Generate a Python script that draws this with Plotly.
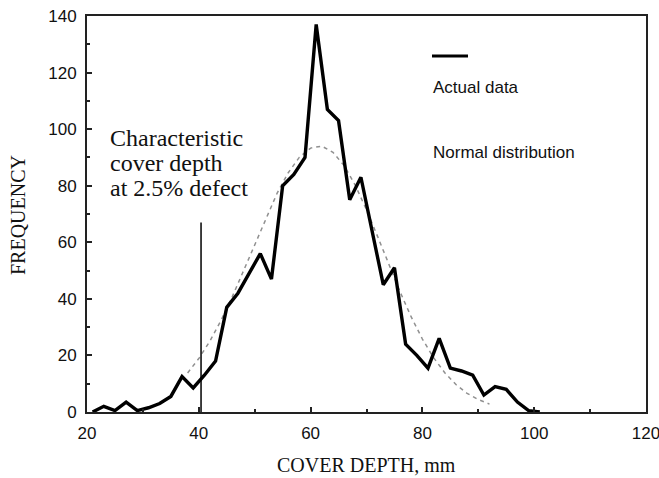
import plotly.graph_objects as go

# Actual data (cover depth bins, frequency)
depth = [21, 23, 25, 27, 29, 31, 33, 35, 37, 39, 41, 43, 45, 47, 49, 51, 53, 55, 57, 59,
         61, 63, 65, 67, 69, 71, 73, 75, 77, 79, 81, 83, 85, 87, 89, 91, 93, 95, 97, 99, 101]
freq = [0, 2, 0.5, 3.5, 0.5, 1.5, 3, 5.5, 12.5, 8.5, 13, 18, 37, 42, 49, 56, 47, 80, 84, 90,
        137, 107, 103, 75, 83, 64, 45, 51, 24, 20, 15.5, 26, 15.5, 14.5, 13, 6, 9, 8, 3.5, 0.5, 0]

# Normal distribution curve
norm_x = [38, 40, 42, 44, 46, 48, 50, 52, 54, 56, 58, 60, 62, 64, 66, 68, 70, 72, 74, 76,
          78, 80, 82, 84, 86, 88, 90, 92]
norm_y = [13.8, 18.9, 25.1, 32.5, 40.8, 49.9, 59.4, 68.7, 77.3, 84.6, 90.1, 93.3, 94, 91.8,
          87.1, 80.1, 71.5, 62.0, 52.1, 42.5, 33.6, 25.8, 19.2, 13.9, 9.7, 6.6, 4.4, 2.8]

# Characteristic cover depth marker
char_x = [40.4, 40.4]
char_y = [0, 67]

x_ticks = [20, 40, 60, 80, 100, 120]
y_ticks = [0, 20, 40, 60, 80, 100, 120, 140]

note_lines = ["Characteristic", "cover depth", "at 2.5% defect"]
legend_labels = ["Actual data", "Normal distribution"]

W, H = 659, 478
L, R, T, B = 87, 646, 16, 412


def px(xp):
    return (xp - L) / (R - L)


def py(yp):
    return (B - yp) / (B - T)


fig = go.Figure()
fig.add_trace(go.Scatter(x=norm_x, y=norm_y, mode="lines",
                         line=dict(color="#909090", width=1.5, dash="4px,4px"),
                         name="Normal distribution"))
fig.add_trace(go.Scatter(x=depth, y=freq, mode="lines",
                         line=dict(color="black", width=3.4),
                         name="Actual data"))
fig.add_trace(go.Scatter(x=char_x, y=char_y, mode="lines",
                         line=dict(color="black", width=1.5), name="marker"))

for i, t in enumerate(note_lines):
    fig.add_annotation(xref="paper", yref="paper", x=px(108), y=py(138 + 25 * i),
                       xanchor="left", yanchor="middle", showarrow=False, text=t,
                       font=dict(family="Liberation Serif", size=24, color="#111"))

# legend-like labels
fig.add_shape(type="line", xref="paper", yref="paper",
              x0=px(432), x1=px(468), y0=py(56), y1=py(56),
              line=dict(color="black", width=3))
for t, yp in zip(legend_labels, [88, 152]):
    fig.add_annotation(xref="paper", yref="paper", x=px(431), y=py(yp),
                       xanchor="left", yanchor="middle", showarrow=False, text=t,
                       font=dict(family="Liberation Sans", size=17, color="#111"))

# axis titles
fig.add_annotation(xref="paper", yref="paper", x=0.5, y=py(465),
                   xanchor="center", yanchor="middle", showarrow=False,
                   text="COVER DEPTH, mm",
                   font=dict(family="Liberation Serif", size=20, color="#111"))
fig.add_annotation(xref="paper", yref="paper", x=px(18), y=py(215),
                   xanchor="center", yanchor="middle", showarrow=False, textangle=-90,
                   text="FREQUENCY",
                   font=dict(family="Liberation Serif", size=20, color="#111"))

axis_common = dict(showgrid=False, zeroline=False, showline=True, linecolor="#222",
                   linewidth=2, mirror=True, ticks="inside", ticklen=5, tickwidth=1.5,
                   tickcolor="#222", automargin=False, ticklabeloverflow="allow",
                   tickfont=dict(family="Liberation Sans", size=17, color="#111"))

fig.update_xaxes(range=[20, 120], tickvals=x_ticks, ticktext=[str(v) for v in x_ticks],
                 minor=dict(dtick=10, tick0=20, ticks="inside", ticklen=3, tickcolor="#222"),
                 ticklabelstandoff=5, **axis_common)
fig.update_yaxes(range=[0, 140], tickvals=y_ticks, ticktext=[str(v) for v in y_ticks],
                 minor=dict(dtick=10, tick0=0, ticks="inside", ticklen=3, tickcolor="#222"),
                 ticklabelstandoff=5, **axis_common)

fig.update_layout(width=W, height=H, showlegend=False,
                  plot_bgcolor="white", paper_bgcolor="white",
                  margin=dict(l=L, r=W - R, t=T, b=H - B))

fig.write_html("out.html", config={"displayModeBar": False},
               post_script="document.body.style.margin='0';"
                           "document.body.style.overflow='hidden';")
